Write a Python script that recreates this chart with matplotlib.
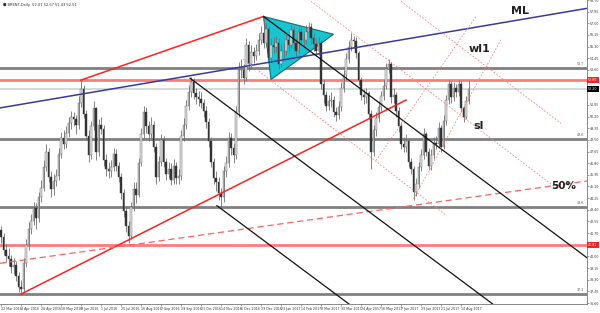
import numpy as np
import matplotlib.pyplot as plt
from matplotlib.patches import Polygon
import matplotlib.transforms as mtrans

# bars at ~2 trading day resolution, 22 Mar 2016 -> Aug 2017
closes = [41.4, 40.5, 40.0, 39.8, 39.2, 39.4, 38.6, 37.8, 37.6,
          39.5, 40.8, 42.0, 42.6, 43.5, 42.8, 44.3, 45.0,
          46.5, 47.6, 45.8, 44.9, 45.5, 45.9, 47.5, 48.6,
          48.2, 49.0, 49.7, 50.2, 50.0, 49.6, 51.2, 52.2,
          50.4, 48.8, 47.4, 49.5, 50.8, 47.6, 49.6, 49.3,
          47.0, 46.4, 46.2, 46.5, 47.5, 46.6, 45.8, 44.6,
          43.3, 42.2, 41.5, 43.6, 44.9, 44.5, 46.8, 48.9,
          50.5, 49.5, 48.9, 49.6, 48.0, 45.8, 46.9, 48.5,
          46.9, 46.0, 46.4, 45.6, 46.6, 45.7, 45.9, 48.8,
          49.6, 51.0, 52.0, 52.7, 51.9, 51.6, 51.5, 51.2,
          50.6, 49.8, 48.4, 46.9, 45.7, 45.4, 44.6, 44.3,
          46.2, 46.8, 48.6, 47.9, 47.4, 50.5, 53.6, 53.6,
          53.0, 55.4, 54.0, 54.9, 54.6, 55.0, 55.8, 56.3,
          55.6, 56.6, 54.5, 55.4, 55.3, 55.6, 54.0, 55.0,
          55.0, 55.8, 55.4, 56.5, 55.6, 55.0, 56.4, 55.8,
          55.8, 56.4, 56.7, 55.9, 55.5, 55.0, 55.6, 52.6,
          51.8, 51.0, 51.3, 51.4, 50.5, 50.3, 50.9, 52.3,
          53.2, 54.4, 55.3, 55.8, 55.7, 54.8, 52.9, 51.8,
          51.6, 51.9, 50.4, 47.6, 49.2, 50.1, 50.9, 51.7,
          52.4, 53.7, 54.0, 51.6, 51.8, 50.6, 49.5, 48.2,
          48.0, 48.4, 46.9, 46.4, 44.7, 45.3, 46.5, 47.4,
          48.9, 47.6, 46.6, 47.4, 48.3, 48.2, 49.4, 48.0,
          49.9, 51.4, 52.6, 51.6, 52.3, 52.0, 52.6, 50.8,
          50.2, 51.3, 52.2]
highs = [42.2, 41.7, 40.9, 40.6, 40.1, 39.9, 39.7, 38.9, 38.3,
         39.9, 41.3, 42.5, 43.1, 44.0, 43.9, 44.7, 45.6,
         47.0, 48.2, 47.9, 46.2, 46.0, 46.4, 47.9, 49.1,
         49.2, 49.5, 50.2, 50.6, 50.5, 50.3, 51.7, 52.86,
         52.5, 50.7, 49.2, 49.9, 51.3, 50.9, 50.0, 50.2,
         49.6, 47.5, 46.9, 47.0, 47.9, 47.8, 46.9, 46.1,
         44.9, 43.6, 42.6, 44.0, 45.4, 45.4, 47.2, 49.4,
         51.0, 50.9, 49.9, 50.2, 49.9, 48.3, 47.3, 48.9,
         48.8, 47.2, 46.9, 46.8, 47.1, 46.9, 46.4, 49.2,
         50.1, 51.4, 52.5, 53.1, 53.0, 52.3, 52.1, 52.0,
         51.5, 51.0, 50.1, 48.7, 47.2, 46.2, 45.8, 45.0,
         46.6, 47.3, 49.1, 49.0, 48.3, 51.0, 54.2, 54.4,
         54.0, 55.9, 55.7, 55.4, 55.3, 55.5, 56.3, 56.8,
         57.4, 57.0, 56.8, 55.9, 56.0, 56.1, 55.9, 55.5,
         55.6, 56.2, 56.2, 56.9, 56.8, 55.9, 56.8, 56.7,
         56.3, 56.9, 57.1, 57.0, 56.3, 55.9, 56.0, 55.8,
         52.9, 52.1, 51.8, 52.0, 51.7, 50.9, 51.3, 52.7,
         53.6, 54.8, 55.7, 56.3, 56.1, 56.0, 55.0, 53.1,
         52.2, 52.3, 52.1, 50.7, 49.6, 50.5, 51.3, 52.1,
         52.9, 54.1, 54.4, 54.2, 52.3, 52.0, 50.9, 49.8,
         48.7, 48.9, 48.6, 47.2, 46.6, 45.7, 46.9, 47.8,
         49.4, 49.1, 47.9, 47.8, 48.7, 48.8, 49.8, 49.6,
         50.3, 51.8, 52.9, 52.8, 52.7, 52.6, 52.9, 52.8,
         51.0, 51.7, 52.8]
lows = [41.0, 40.1, 39.6, 39.3, 38.8, 38.7, 38.2, 37.4, 37.25,
        37.4, 39.2, 40.5, 41.6, 42.3, 42.0, 42.5, 44.0,
        44.8, 46.2, 45.4, 44.3, 44.5, 45.1, 45.6, 47.2,
        47.8, 47.9, 48.7, 49.3, 49.5, 48.9, 49.3, 50.9,
        50.1, 48.5, 46.9, 47.1, 49.2, 47.0, 47.3, 48.9,
        46.6, 45.9, 45.7, 45.8, 46.2, 46.2, 45.4, 44.2,
        42.9, 41.8, 41.0, 41.3, 43.3, 43.9, 44.3, 46.6,
        48.6, 49.0, 48.4, 48.6, 47.6, 45.3, 45.5, 46.6,
        46.5, 45.6, 45.7, 45.2, 45.3, 45.3, 45.3, 45.6,
        48.4, 49.3, 50.7, 51.6, 51.5, 51.1, 51.0, 50.8,
        50.2, 49.4, 48.0, 46.5, 45.3, 44.8, 44.1, 43.6,
        44.0, 45.8, 46.5, 47.4, 46.8, 47.1, 50.2, 53.0,
        52.6, 52.8, 53.5, 53.7, 54.1, 54.3, 54.7, 55.5,
        55.2, 55.3, 54.1, 54.2, 54.8, 54.9, 53.7, 53.8,
        54.5, 54.7, 55.0, 55.2, 55.2, 54.6, 54.8, 55.4,
        55.3, 55.5, 56.0, 55.5, 55.0, 54.6, 54.7, 52.2,
        51.2, 50.6, 50.7, 50.9, 50.2, 49.9, 50.0, 50.6,
        52.0, 52.9, 54.1, 55.0, 55.2, 54.5, 52.5, 51.4,
        51.1, 51.2, 50.0, 46.4, 47.3, 48.8, 49.8, 50.6,
        51.4, 52.2, 53.4, 51.2, 51.2, 50.2, 49.1, 47.8,
        47.6, 47.6, 46.5, 46.0, 44.1, 44.4, 45.0, 46.2,
        47.1, 47.3, 46.3, 46.3, 47.1, 47.8, 47.9, 47.6,
        47.8, 49.6, 51.1, 51.2, 51.3, 51.6, 51.7, 50.5,
        49.8, 50.0, 51.1]
first_open = 41.9

date_labels = ["22 Mar 2016", "4 Apr 2016", "26 Apr 2016", "18 May 2016", "9 Jun 2016",
               "1 Jul 2016", "25 Jul 2016", "16 Aug 2016", "7 Sep 2016", "29 Sep 2016",
               "21 Oct 2016", "14 Nov 2016", "6 Dec 2016", "29 Dec 2016", "23 Jan 2017",
               "14 Feb 2017", "8 Mar 2017", "30 Mar 2017", "24 Apr 2017", "16 May 2017",
               "7 Jun 2017", "29 Jun 2017", "21 Jul 2017", "14 Aug 2017"]
label_step = 8

# horizontal levels
gray_levels = [53.74, 48.58, 43.64, 37.26]
red_levels = [52.86, 40.81]
last_price = closes[-1]

# drawn trend lines: (bar, price) pairs
red_upper = [(32, 52.86), (105, 57.5)]
red_lower = [(8, 37.25), (162, 51.4)]
red_50 = [(-0.4, 39.5), (234.4, 45.5)]
ml_line = [(-0.4, 50.83), (234.4, 58.09)]
black_lines = [[(105, 57.5), (234.4, 39.9)],
               [(75.6, 53.0), (234.4, 31.4)],
               [(86.4, 43.7), (234.4, 23.6)]]
dotted_lines = [[(124, 58.6), (222, 45.0)],
                [(96.8, 54.4), (178, 43.0)],
                [(165, 44.2), (200, 55.8)],
                [(150, 47.0), (190, 57.5)],
                [(160, 58.6), (224, 49.7)]]
triangle = [(105, 57.5), (108, 52.9), (133, 56.2)]

opens = [first_open] + closes[:-1]
x = np.arange(len(closes))

fig = plt.figure(figsize=(6, 3.13), dpi=100)
ax = fig.add_axes([0.0, 1 - 304 / 313, 587 / 600, 304 / 313])

# levels
for lv in gray_levels:
    ax.axhline(lv, color='#808080', lw=2.0, zorder=1)
for lv in red_levels:
    ax.axhline(lv, color='#ff7b7b', lw=2.0, zorder=1)
ax.axhline(last_price, color='#c9d3d3', lw=1.2, zorder=1)

# pattern triangle sits behind the candles
ax.add_patch(Polygon(triangle, closed=True, facecolor='#19c3cf', edgecolor='#0b6f78',
                     lw=0.8, zorder=2))

# candles
ax.vlines(x, lows, highs, color='#707070', lw=0.6, zorder=3)
body_lo = np.minimum(opens, closes)
body_h = np.abs(np.array(closes) - np.array(opens))
up = np.array(closes) >= np.array(opens)
ax.bar(x[up], body_h[up], bottom=body_lo[up], width=0.7, color='#e0e0e0',
       edgecolor='#606060', lw=0.3, zorder=4)
ax.bar(x[~up], body_h[~up], bottom=body_lo[~up], width=0.7, color='#333333',
       edgecolor='#333333', lw=0.3, zorder=4)

# trend lines
for seg in [red_upper, red_lower]:
    ax.plot(*zip(*seg), color='#ff2020', lw=1.1, zorder=5)
ax.plot(*zip(*red_50), color='#ff6060', lw=0.9, ls=(0, (5, 3)), zorder=5)
ax.plot(*zip(*ml_line), color='#3a3a9c', lw=1.1, zorder=5)
for seg in black_lines:
    ax.plot(*zip(*seg), color='#111111', lw=0.9, zorder=5)
for seg in dotted_lines:
    ax.plot(*zip(*seg), color='#ff8080', lw=0.6, ls=(0, (2, 2)), zorder=5)

# labels on the chart
ax.text(204, 57.7, 'ML', fontsize=8, fontweight='bold', color='#222222', zorder=7)
ax.text(187, 54.9, 'wl1', fontsize=8, fontweight='bold', color='#222222', zorder=7)
ax.text(189, 49.3, 'sl', fontsize=8, fontweight='bold', color='#222222', zorder=7)
ax.text(220, 44.9, '50%', fontsize=7.5, fontweight='bold', color='#222222', zorder=7)
ax.text(0.005, 0.99, '\u25a0 BRENT,Daily  52.07 52.67 51.43 52.51', transform=ax.transAxes,
        fontsize=2.6, color='#333333', va='top')

# right side price tags
trans = mtrans.blended_transform_factory(ax.transAxes, ax.transData)
for lv in red_levels:
    ax.text(1.002, lv, f'{lv:.2f}', transform=trans, fontsize=2.3, color='white', va='center',
            ha='left', bbox=dict(boxstyle='square,pad=0.3', fc='#ff2020', ec='none'), clip_on=False)
ax.text(1.002, last_price, f'{last_price:.2f}', transform=trans, fontsize=2.3, color='white',
        va='center', ha='left', bbox=dict(boxstyle='square,pad=0.3', fc='black', ec='none'),
        clip_on=False)
for lv in gray_levels:
    ax.text(0.995, lv + 0.12, f'{lv:.1f}', transform=trans, fontsize=2.3, color='#555555',
            ha='right', va='bottom')

ax.set_xlim(-0.4, 234.4)
ax.set_ylim(36.53, 58.6)

tags = red_levels + [last_price]
yt = [v for v in np.arange(36.60, 58.7, 0.85) if min(abs(v - t) for t in tags) > 0.45]
ax.yaxis.tick_right()
ax.set_yticks(yt)
ax.set_yticklabels([f'{v:.2f}' for v in yt], fontsize=2.3, color='#333333')
ax.set_xticks(np.arange(len(date_labels)) * label_step)
ax.set_xticklabels(date_labels, fontsize=2.3, color='#333333', ha='left')
ax.tick_params(axis='both', length=1.5, width=0.4, pad=0.8, color='#555555')
for s in ['left', 'top']:
    ax.spines[s].set_visible(False)
for s in ['right', 'bottom']:
    ax.spines[s].set_color('#777777')
    ax.spines[s].set_linewidth(0.6)

fig.savefig('out.png', dpi=100)
